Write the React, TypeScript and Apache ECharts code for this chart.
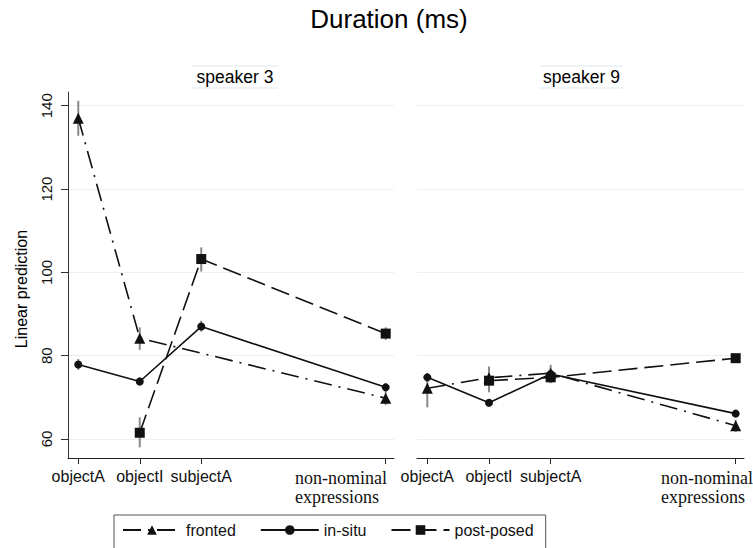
import React, { useEffect, useRef } from 'react';
import * as echarts from 'echarts';

// x positions of the categories (Stata-style numeric spacing)
const positions = [1, 2, 3, 6];
const categoryLabels = ['objectA', 'objectI', 'subjectA', 'non-nominal\nexpressions'];
const seriesNames = ['fronted', 'in-situ', 'post-posed'];
const panelTitles = ['speaker 3', 'speaker 9'];
const yTicks = [60, 80, 100, 120, 140];

// speaker 3 — point estimates
const s3Fronted = [137.0, 84.2, null, 69.8];
const s3InSitu = [77.9, 73.8, 87.0, 72.4];
const s3PostPosed = [null, 61.5, 103.2, 85.3];
// speaker 3 — confidence intervals
const s3FrontedLo = [132.8, 81.4, null, 68.2];
const s3FrontedHi = [141.2, 86.8, null, 71.4];
const s3InSituLo = [76.6, 72.8, 85.8, 71.4];
const s3InSituHi = [79.2, 74.8, 88.4, 73.4];
const s3PostPosedLo = [null, 58.0, 100.2, 83.8];
const s3PostPosedHi = [null, 65.2, 106.0, 86.8];

// speaker 9 — point estimates
const s9Fronted = [72.2, 74.7, 75.8, 63.2];
const s9InSitu = [74.8, 68.7, 75.6, 66.1];
const s9PostPosed = [null, 74.0, 74.8, 79.4];
// speaker 9 — confidence intervals
const s9FrontedLo = [67.6, 71.2, 73.6, 61.7];
const s9FrontedHi = [74.8, 77.4, 77.8, 64.6];
const s9InSituLo = [73.8, 68.0, 74.6, 65.4];
const s9InSituHi = [75.8, 69.4, 76.6, 66.8];
const s9PostPosedLo = [null, 72.4, 73.4, 78.4];
const s9PostPosedHi = [null, 75.6, 76.2, 80.4];

const FONT = '"Liberation Sans", Arial, sans-serif';
const SERIF = '"Liberation Serif", "Times New Roman", serif';

export default function App() {
  const ref = useRef<HTMLDivElement>(null);

  useEffect(() => {
    if (!ref.current) return;
    const chart = echarts.init(ref.current, null, { renderer: 'svg' });

    const panels = [
      {
        vals: [s3Fronted, s3InSitu, s3PostPosed],
        lo: [s3FrontedLo, s3InSituLo, s3PostPosedLo],
        hi: [s3FrontedHi, s3InSituHi, s3PostPosedHi],
      },
      {
        vals: [s9Fronted, s9InSitu, s9PostPosed],
        lo: [s9FrontedLo, s9InSituLo, s9PostPosedLo],
        hi: [s9FrontedHi, s9InSituHi, s9PostPosedHi],
      },
    ];

    const styles = [
      { symbol: 'triangle', symbolSize: 11, type: [18, 7, 2, 7] as any },
      { symbol: 'circle', symbolSize: 8, type: 'solid' as any },
      { symbol: 'rect', symbolSize: 10, type: [19, 7] as any },
    ];

    const yMin = 55.44;
    const yMax = 143.3;
    const xMin = 0.833;
    const xMax = 6.135;

    // positions whose (sans) label sits centered under the tick
    const sansPositions = positions.filter((_, i) => categoryLabels[i].indexOf('\n') < 0);
    const longIdx = categoryLabels.findIndex((l) => l.indexOf('\n') >= 0);

    const series: any[] = [];
    panels.forEach((p, g) => {
      const bars: number[][] = [];
      p.vals.forEach((_, s) => {
        positions.forEach((x, i) => {
          const lo = p.lo[s][i];
          const hi = p.hi[s][i];
          if (lo != null && hi != null) bars.push([x, lo, hi]);
        });
      });
      series.push({
        type: 'custom',
        xAxisIndex: g,
        yAxisIndex: g,
        silent: true,
        z: 1,
        data: bars,
        renderItem: (_params: any, api: any) => {
          const p1 = api.coord([api.value(0), api.value(1)]);
          const p2 = api.coord([api.value(0), api.value(2)]);
          return {
            type: 'line',
            shape: { x1: p1[0], y1: p1[1], x2: p2[0], y2: p2[1] },
            style: { stroke: '#8a8a8a', lineWidth: 2 },
          };
        },
      });
      p.vals.forEach((arr, s) => {
        const data: number[][] = [];
        positions.forEach((x, i) => {
          const v = arr[i];
          if (v != null) data.push([x, v]);
        });
        series.push({
          name: seriesNames[s],
          type: 'line',
          xAxisIndex: g,
          yAxisIndex: g,
          z: 3,
          data,
          symbol: styles[s].symbol,
          symbolSize: styles[s].symbolSize,
          showAllSymbol: true,
          lineStyle: { color: '#111', width: 1.6, type: styles[s].type },
          itemStyle: { color: '#111' },
        });
      });
    });

    const xAxisBase = (g: number) => ({
      type: 'value',
      gridIndex: g,
      min: xMin,
      max: xMax,
      axisLine: { show: true, lineStyle: { color: '#222', width: 1 } },
      axisTick: {
        show: true,
        customValues: positions,
        length: 6,
        lineStyle: { color: '#222' },
      },
      axisLabel: {
        customValues: sansPositions,
        margin: 10,
        color: '#111',
        fontSize: 16,
        fontFamily: FONT,
        formatter: (v: number) => {
          const idx = positions.indexOf(Math.round(v));
          return idx < 0 ? '' : categoryLabels[idx];
        },
      },
      splitLine: { show: false },
    });

    // hand-placed (left-aligned, serif) label for the last category, as in the original
    const longLabelLeft = [295, 661];

    const option: any = {
      animation: false,
      backgroundColor: '#fff',
      textStyle: { fontFamily: FONT },
      grid: [
        { left: 68, top: 92, width: 326, height: 366, containLabel: false, outerBoundsMode: 'none' },
        { left: 417, top: 92, width: 327, height: 366, containLabel: false, outerBoundsMode: 'none' },
      ],
      xAxis: [xAxisBase(0), xAxisBase(1)],
      yAxis: [
        {
          type: 'value',
          gridIndex: 0,
          min: yMin,
          max: yMax,
          axisLine: { show: true, lineStyle: { color: '#333', width: 1 } },
          axisTick: { show: true, customValues: yTicks, length: 7, lineStyle: { color: '#333' } },
          axisLabel: {
            customValues: yTicks,
            rotate: 90,
            margin: 14,
            color: '#111',
            fontSize: 15,
            fontFamily: FONT,
          },
          splitLine: { show: true, lineStyle: { color: '#eaf0f3', width: 1 } },
        },
        {
          type: 'value',
          gridIndex: 1,
          min: yMin,
          max: yMax,
          axisLine: { show: false },
          axisTick: { show: false, customValues: yTicks },
          axisLabel: { show: false, customValues: yTicks },
          splitLine: { show: true, lineStyle: { color: '#eaf0f3', width: 1 } },
        },
      ],
      legend: {
        data: seriesNames,
        left: 114,
        top: 515,
        itemWidth: 58,
        itemHeight: 12,
        itemGap: 24,
        padding: [7, 12, 40, 8],
        borderColor: '#555',
        borderWidth: 1,
        textStyle: { fontSize: 16, fontFamily: FONT, color: '#111' },
      },
      graphic: [
        {
          type: 'text',
          x: 389,
          y: 19,
          style: {
            text: 'Duration (ms)',
            font: `26px ${FONT}`,
            fill: '#000',
            align: 'center',
            verticalAlign: 'middle',
          },
          silent: true,
        },
        // speaker strips
        ...panelTitles.flatMap((t, i) => {
          const x0 = i === 0 ? 192 : 540;
          const x1 = i === 0 ? 278 : 623;
          const cx = (x0 + x1) / 2;
          return [
            {
              type: 'line',
              shape: { x1: x0, y1: 66, x2: x1, y2: 66 },
              style: { stroke: '#dde7f0', lineWidth: 1 },
              silent: true,
            },
            {
              type: 'line',
              shape: { x1: x0, y1: 88, x2: x1, y2: 88 },
              style: { stroke: '#dde7f0', lineWidth: 1 },
              silent: true,
            },
            {
              type: 'text',
              x: cx,
              y: 77,
              style: {
                text: t,
                font: `17.5px ${FONT}`,
                fill: '#000',
                align: 'center',
                verticalAlign: 'middle',
              },
              silent: true,
            },
          ];
        }),
        // last-category axis labels (two lines, serif)
        ...longLabelLeft.map((lx) => ({
          type: 'text',
          x: lx,
          y: 468,
          style: {
            text: categoryLabels[longIdx],
            font: `18px ${SERIF}`,
            lineHeight: 19,
            fill: '#111',
            align: 'left',
            verticalAlign: 'top',
          },
          silent: true,
        })),
        {
          type: 'text',
          x: 21,
          y: 289,
          rotation: Math.PI / 2,
          style: {
            text: 'Linear prediction',
            font: `16px ${FONT}`,
            fill: '#000',
            align: 'center',
            verticalAlign: 'middle',
          },
          silent: true,
        },
      ],
      series,
    };

    chart.setOption(option);
    return () => chart.dispose();
  }, []);

  return (
    <div
      ref={ref}
      style={{ position: 'fixed', left: 0, top: 0, width: 753, height: 548, background: '#fff' }}
    />
  );
}
